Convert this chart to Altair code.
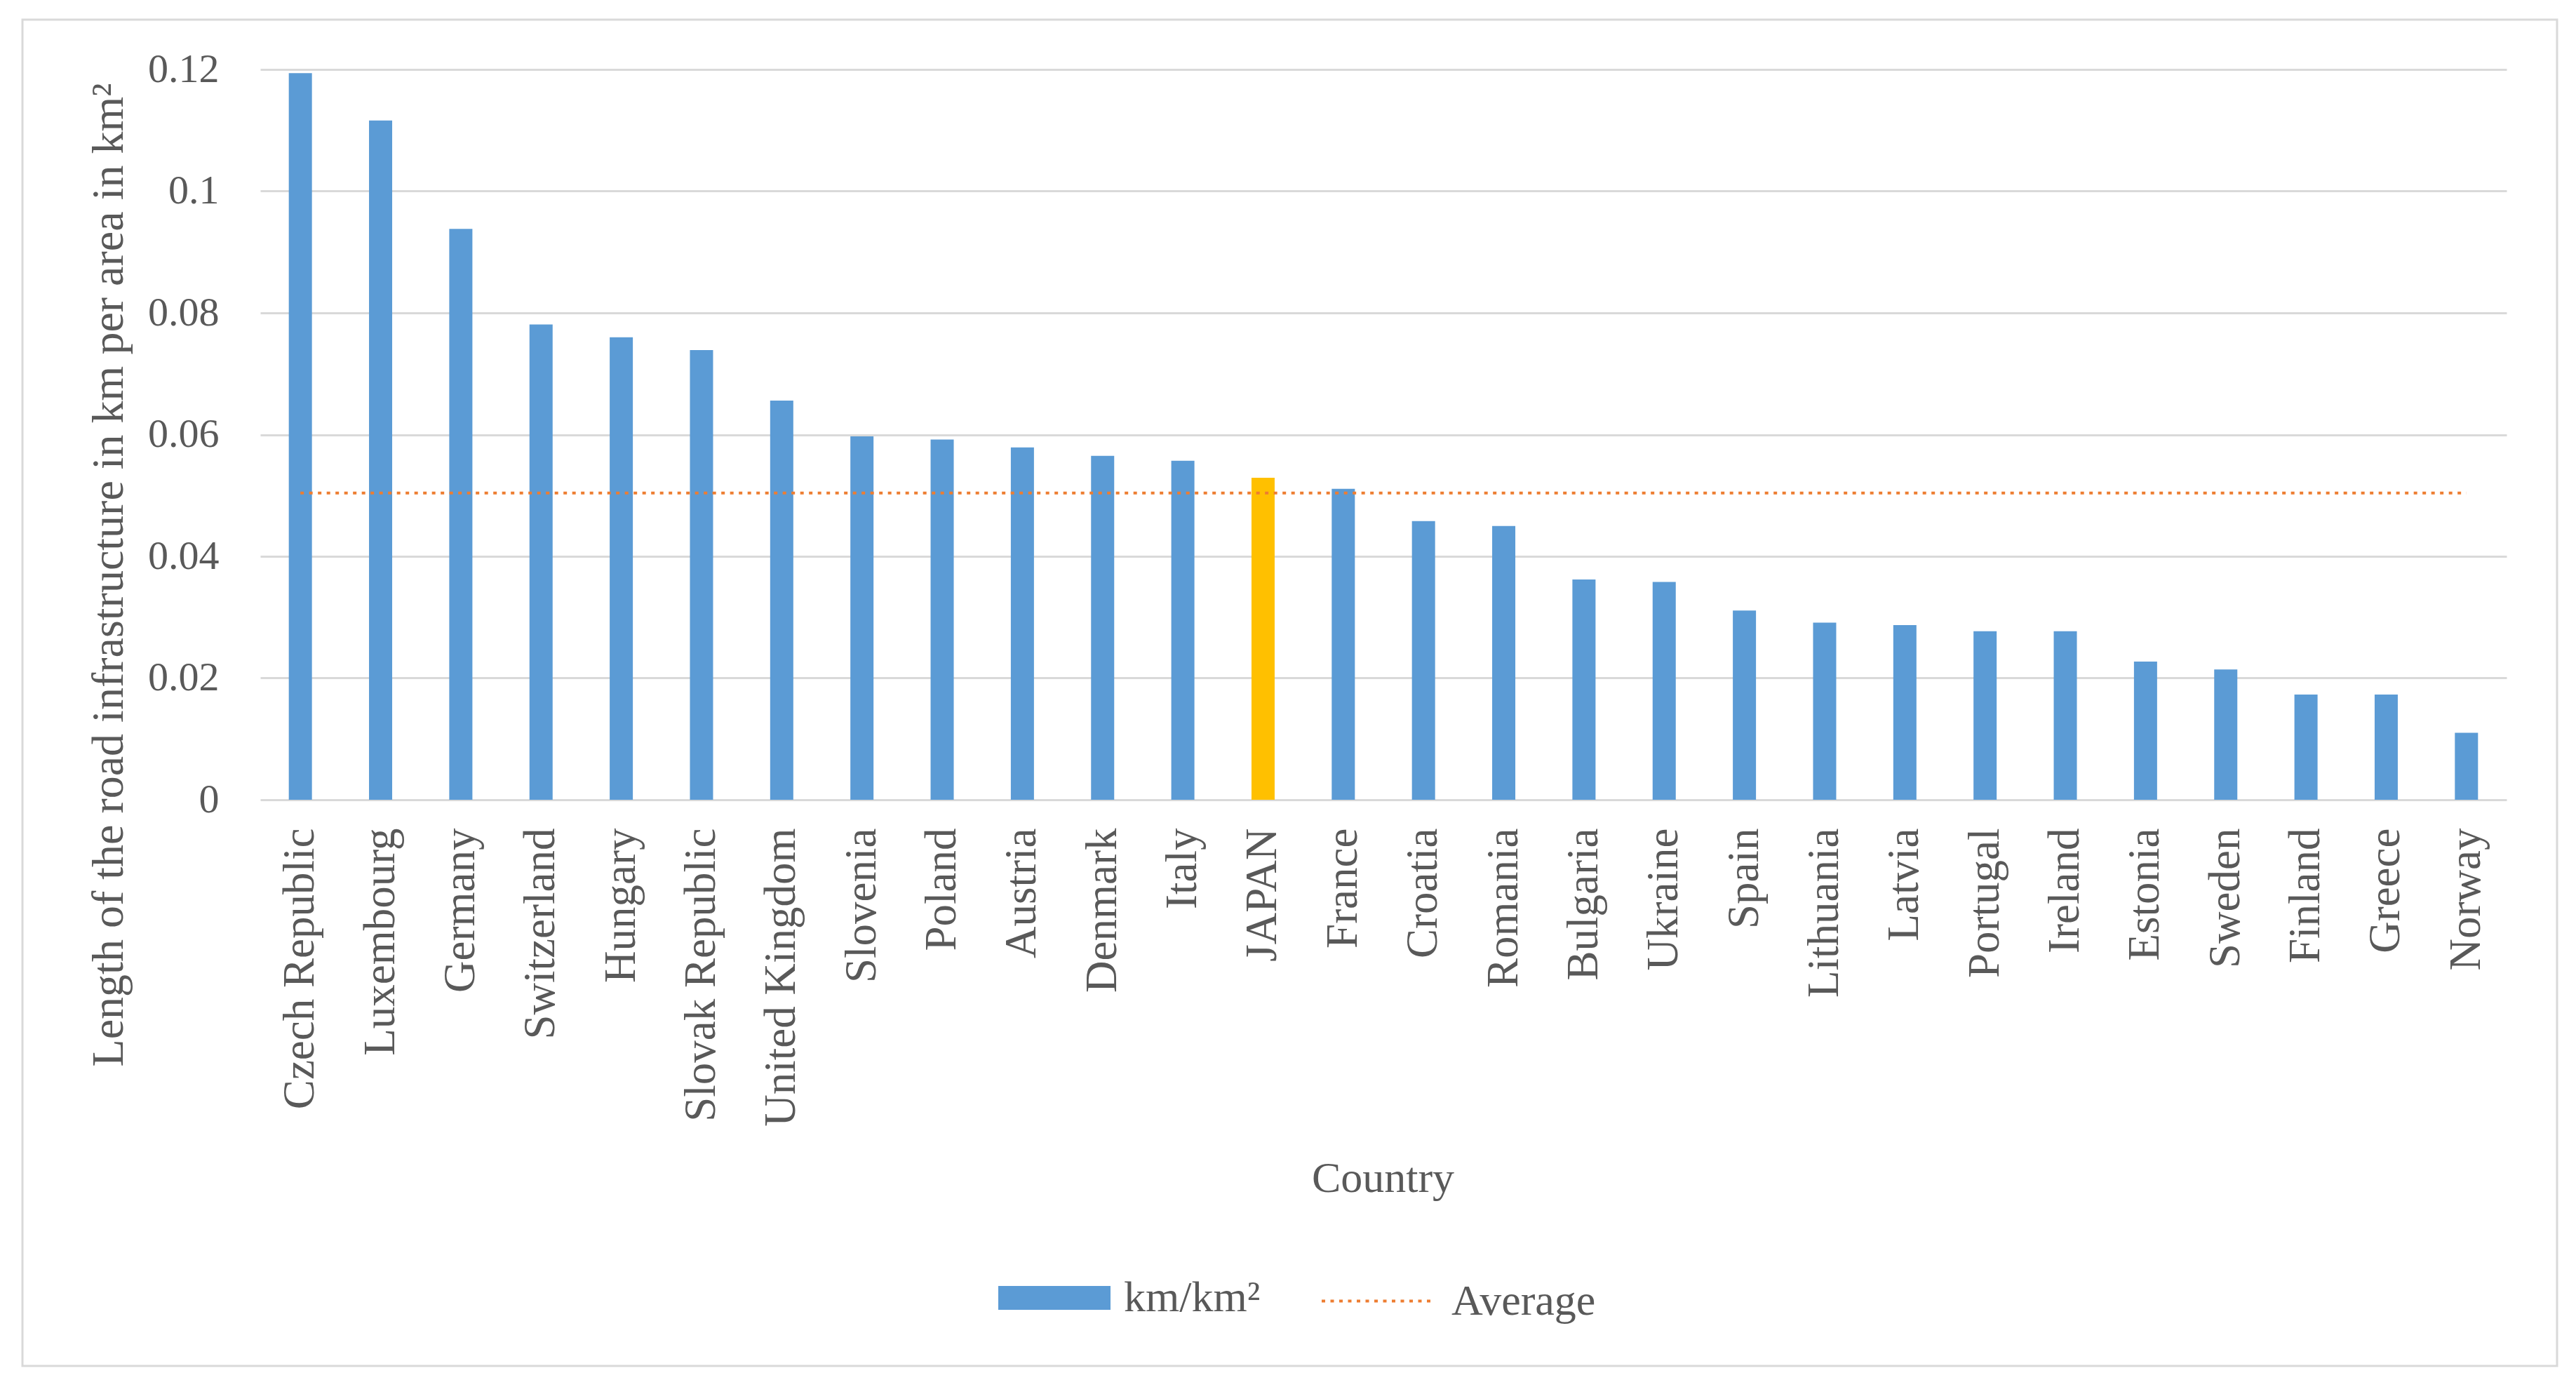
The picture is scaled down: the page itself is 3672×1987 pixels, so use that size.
import altair as alt
import pandas as pd

countries = ["Czech Republic", "Luxembourg", "Germany", "Switzerland", "Hungary",
             "Slovak Republic", "United Kingdom", "Slovenia", "Poland", "Austria",
             "Denmark", "Italy", "JAPAN", "France", "Croatia", "Romania", "Bulgaria",
             "Ukraine", "Spain", "Lithuania", "Latvia", "Portugal", "Ireland",
             "Estonia", "Sweden", "Finland", "Greece", "Norway"]
values = [0.1194, 0.1116, 0.0938, 0.0781, 0.0760, 0.0739, 0.0656, 0.0597, 0.0592,
          0.0579, 0.0565, 0.0557, 0.0529, 0.0511, 0.0458, 0.0450, 0.0362, 0.0358,
          0.0311, 0.0291, 0.0287, 0.0277, 0.0277, 0.0227, 0.0214, 0.0173, 0.0173,
          0.0110]
average = 0.0504
y_ticks = [0, 0.02, 0.04, 0.06, 0.08, 0.1, 0.12]
bar_label = "km/km²"
avg_label = "Average"
highlight = "JAPAN"

df = pd.DataFrame({"country": countries, "value": values})
df["series"] = bar_label
df["avg"] = average
df["series2"] = avg_label

FONT = "Liberation Serif"
TXT = "#595959"
W, H = 3202, 1041

y_axis = alt.Axis(values=y_ticks, format=".2~f", grid=True, gridColor="#d9d9d9",
                  gridWidth=3, domain=False, ticks=False, labelFont=FONT,
                  labelFontSize=58, labelColor=TXT, labelPadding=59,
                  title="Length of the road infrastructure in km per area in km²",
                  titleFont=FONT, titleFontSize=64, titleFontWeight="normal",
                  titleColor=TXT, titleAngle=270, titleX=-197, titleY=720,
                  titleAlign="center", titleBaseline="alphabetic")
x_axis = alt.Axis(labelAngle=270, labelAlign="right", labelBaseline="middle",
                  labelPadding=40, labelFont=FONT, labelFontSize=63, labelColor=TXT,
                  labelLimit=0, labelOverlap=False, domain=False, ticks=False,
                  grid=False, title="Country", titleFont=FONT, titleFontSize=62,
                  titleFontWeight="normal", titleColor=TXT, titleX=1600, titleY=558,
                  titleAlign="center", titleBaseline="alphabetic")

x_enc = alt.X("country:N", sort=countries, axis=x_axis,
              scale=alt.Scale(type="band", paddingInner=0, paddingOuter=0))
y_scale = alt.Scale(domain=[0, 0.12], nice=False, zero=True)

bars = alt.Chart(df).mark_bar(size=33).encode(
    x=x_enc,
    y=alt.Y("value:Q", scale=y_scale, axis=y_axis),
    color=alt.condition(
        alt.datum.country == highlight,
        alt.value("#FFC000"),
        alt.Color("series:N",
                  scale=alt.Scale(domain=[bar_label], range=["#5B9BD5"]),
                  legend=alt.Legend(orient="none", legendX=1052, legendY=1671,
                                    title=None, padding=0,
                                    symbolType="M-1,-0.2125H1V0.2125H-1Z",
                                    symbolSize=25600, symbolStrokeWidth=0,
                                    labelOffset=19, labelFont=FONT,
                                    labelFontSize=62, labelColor=TXT, labelLimit=0)),
    ),
)

avg_line = alt.Chart(df).mark_line(strokeDash=[5, 7.5], strokeWidth=4).encode(
    x=x_enc,
    y=alt.Y("avg:Q", scale=y_scale, axis=y_axis),
    color=alt.Color("series2:N",
                    scale=alt.Scale(domain=[avg_label], range=["#ED7D31"]),
                    legend=alt.Legend(orient="none", legendX=1511, legendY=1676,
                                      title=None, padding=0, symbolType="stroke",
                                      symbolSize=24025, symbolStrokeWidth=4,
                                      symbolDash=[5, 7.5], labelOffset=28,
                                      labelFont=FONT, labelFontSize=62,
                                      labelColor=TXT, labelLimit=0)),
)

frame = alt.Chart(pd.DataFrame({"k": [0]})).mark_rect(
    filled=False, stroke="#d9d9d9", strokeWidth=3
).encode(x=alt.value(-339), x2=alt.value(3274), y=alt.value(-71), y2=alt.value(1848))

chart = alt.layer(frame, bars, avg_line).resolve_scale(color="independent").properties(
    width=W, height=H,
    autosize=alt.AutoSizeParams(type="none"),
    padding={"left": 363, "top": 91, "right": 85, "bottom": 835},
    background="white",
).configure_view(stroke=None)

chart.save("out.html", embed_options={"renderer": "svg", "actions": False})
